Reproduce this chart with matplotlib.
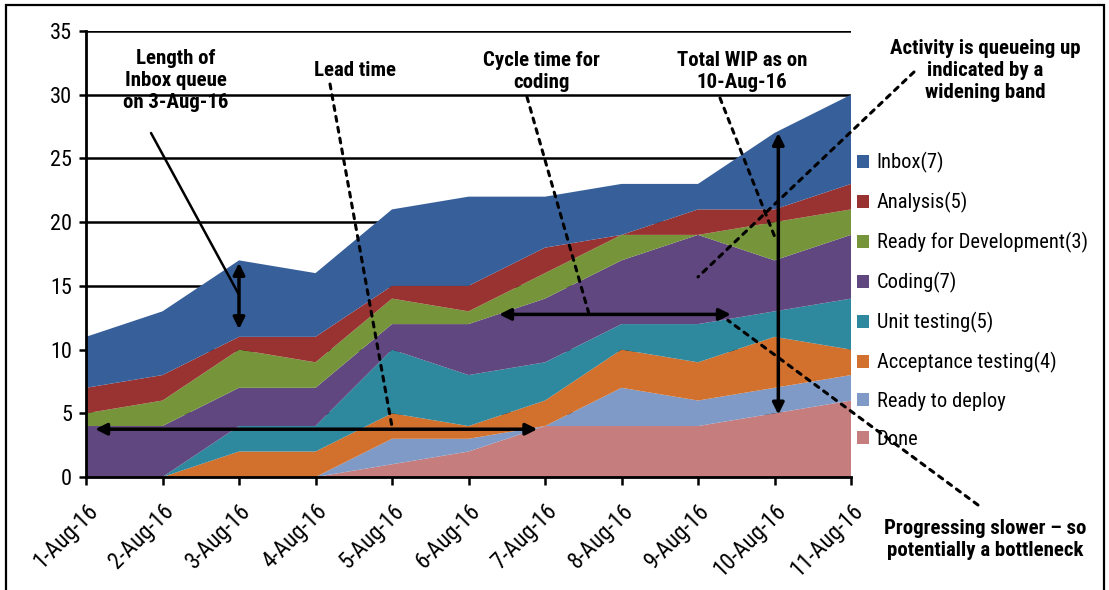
import numpy as np
import matplotlib
matplotlib.use("Agg")
import matplotlib.pyplot as plt
from matplotlib.patches import Rectangle, Patch
from matplotlib import font_manager

W, H = 1109, 590

# daily cumulative-flow counts per stage
dates = ["1-Aug-16", "2-Aug-16", "3-Aug-16", "4-Aug-16", "5-Aug-16", "6-Aug-16",
         "7-Aug-16", "8-Aug-16", "9-Aug-16", "10-Aug-16", "11-Aug-16"]
done = [0, 0, 0, 0, 1, 2, 4, 4, 4, 5, 6]
ready_to_deploy = [0, 0, 0, 0, 2, 1, 0, 3, 2, 2, 2]
acceptance = [0, 0, 2, 2, 2, 1, 2, 3, 3, 4, 2]
unit_testing = [0, 0, 2, 2, 5, 4, 3, 2, 3, 2, 4]
coding = [4, 4, 3, 3, 2, 4, 5, 5, 7, 4, 5]
ready_for_dev = [1, 2, 3, 2, 2, 1, 2, 2, 0, 3, 2]
analysis = [2, 2, 1, 2, 1, 2, 2, 0, 2, 1, 2]
inbox = [4, 5, 6, 5, 6, 7, 4, 4, 2, 6, 7]

labels = ["Done", "Ready to deploy", "Acceptance testing(4)", "Unit testing(5)",
          "Coding(7)", "Ready for Development(3)", "Analysis(5)", "Inbox(7)"]
colors = ["#C57D7E", "#7F9AC6", "#D2712D", "#2E889E", "#60477F", "#76953A",
          "#983331", "#37609A"]

# pick a narrow sans if one is around
fonts = font_manager.fontManager.ttflist
names = {f.name for f in fonts}
picked = "Liberation Sans"
if "Liberation Sans Narrow" in names:
    picked = "Liberation Sans Narrow"
elif "Roboto Condensed" in names:
    picked = "Roboto Condensed"
elif any(f.name == "DejaVu Sans" and str(f.stretch) in ("condensed", "semi-condensed", "500", "300")
         for f in fonts):
    picked = "DejaVu Sans"
    plt.rcParams["font.stretch"] = "condensed"
plt.rcParams["font.family"] = [picked, "DejaVu Sans"]


def fig_xy(px, py):
    return px / W, 1 - py / H


fig = plt.figure(figsize=(W / 100, H / 100), dpi=100)
ax = fig.add_axes([86 / W, 1 - 477 / H, (851 - 86) / W, (477 - 31) / H])

x = np.arange(len(dates))
series = [done, ready_to_deploy, acceptance, unit_testing, coding, ready_for_dev, analysis, inbox]
ax.stackplot(x, *series, colors=colors, linewidth=0, zorder=2)

ax.set_xlim(0, len(dates) - 1)
ax.set_ylim(0, 35)
ax.set_yticks(range(0, 36, 5))
ax.yaxis.grid(True, color="black", lw=1.8, zorder=0)
ax.set_axisbelow(True)
ax.set_xticks(x)
ax.set_xticklabels(dates, rotation=45, ha="right", va="top", rotation_mode="anchor")
ax.tick_params(axis="x", length=6, width=1.8, labelsize=16.5, pad=10)
ax.tick_params(axis="y", length=5, width=1.8, labelsize=16, pad=5)
for s in ["top", "right"]:
    ax.spines[s].set_visible(False)
for s in ["left", "bottom"]:
    ax.spines[s].set_linewidth(2)
    ax.spines[s].set_zorder(5)

# legend, top entry first
handles = [Patch(facecolor=c, edgecolor="none") for c in colors[::-1]]
ax.legend(handles, labels[::-1], loc="upper left", bbox_to_anchor=fig_xy(857, 152),
          bbox_transform=fig.transFigure, frameon=False, fontsize=14.8,
          handlelength=0.6, handleheight=0.6, handletextpad=0.35, labelspacing=0.92,
          borderpad=0, borderaxespad=0)

tot = np.cumsum(np.array(series), axis=0)
arrow = dict(arrowstyle="<|-|>", color="black", lw=2.5, mutation_scale=17,
             shrinkA=0, shrinkB=0)
dots = dict(arrowstyle="-", color="black", lw=2.2, linestyle=(0, (1.6, 2.0)),
            shrinkA=0, shrinkB=0)
bold = dict(fontsize=15, fontweight="bold", ha="center", va="center",
            linespacing=1.2)

# inbox queue length on 3-Aug
ax.annotate("", xy=(2, tot[7][2] - 0.2), xytext=(2, tot[6][2] + 0.6), arrowprops=arrow, zorder=6)
fig.text(*fig_xy(176, 80), "Length of\nInbox queue\non 3-Aug-16", **bold)
ax.annotate("", xy=(2, 14.3), xytext=fig_xy(151, 133), textcoords="figure fraction",
            arrowprops=dict(arrowstyle="-", color="black", lw=1.8, shrinkA=0, shrinkB=0))

# lead time
ax.annotate("", xy=(0.12, 3.75), xytext=(5.9, 3.75), arrowprops=arrow, zorder=6)
fig.text(*fig_xy(355, 70), "Lead time", **bold)
ax.annotate("", xy=(4.0, 3.95), xytext=fig_xy(330, 84), textcoords="figure fraction",
            arrowprops=dots)

# cycle time for coding
ax.annotate("", xy=(5.4, 12.76), xytext=(8.43, 12.76), arrowprops=arrow, zorder=6)
fig.text(*fig_xy(541, 71), "Cycle time for\ncoding", **bold)
ax.annotate("", xy=(6.57, 12.9), xytext=fig_xy(527, 97), textcoords="figure fraction",
            arrowprops=dots)

# total WIP on 10-Aug
ax.annotate("", xy=(9.05, tot[7][9]), xytext=(9.05, tot[0][9] - 0.1), arrowprops=arrow, zorder=6)
fig.text(*fig_xy(742, 71), "Total WIP as on\n10-Aug-16", **bold)
ax.annotate("", xy=(9.0, 18.9), xytext=fig_xy(720, 98), textcoords="figure fraction",
            arrowprops=dots)

# queueing up
fig.text(*fig_xy(985, 71), "Activity is queueing up\nindicated by a\nwidening band", **bold)
ax.annotate("", xy=(8.0, 15.7), xytext=fig_xy(914, 72), textcoords="figure fraction",
            arrowprops=dots, annotation_clip=False)

# bottleneck
fig.text(*fig_xy(985, 540), "Progressing slower \u2013 so\npotentially a bottleneck", **bold)
ax.annotate("", xy=(8.39, 12.3), xytext=fig_xy(978, 505), textcoords="figure fraction",
            arrowprops=dots, annotation_clip=False, zorder=7)

# outer frame
fig.patches.append(Rectangle(fig_xy(6, 600), (1104 - 6) / W, 595 / H, transform=fig.transFigure,
                             fill=False, edgecolor="black", lw=1.6))

fig.savefig("out.png", dpi=100)
